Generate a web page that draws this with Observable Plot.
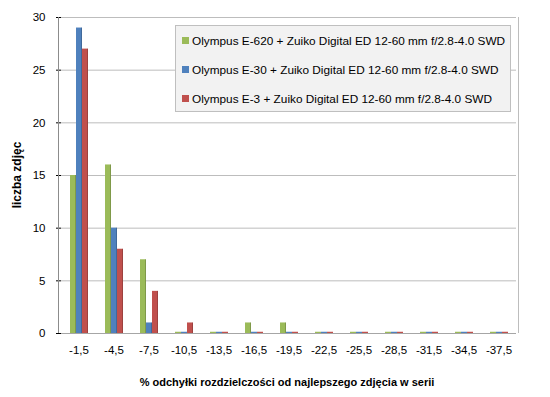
<!DOCTYPE html>
<html>
<head>
<meta charset="utf-8">
<script src="https://cdn.jsdelivr.net/npm/d3@7"></script>
<script src="https://cdn.jsdelivr.net/npm/@observablehq/plot@0.6"></script>
<style>
  html, body { margin: 0; padding: 0; background: #fff; }
  #wrap { position: relative; width: 550px; height: 397px; font-family: "Liberation Sans", Arial, sans-serif; }
  #legend { position: absolute; left: 175px; top: 25px; width: 336px; height: 87px; background: #f2f2f2; border: 1px solid #bfbfbf; box-sizing: border-box; font-size: 11.8px; color: #000; }
  #legend .item { position: absolute; left: 6px; white-space: nowrap; }
  #legend .sw { display: inline-block; width: 7px; height: 7px; margin-right: 3px; vertical-align: 1px; }
  #ylab { position: absolute; left: 17px; top: 175px; transform: translate(-50%, -50%) rotate(-90deg); font-weight: bold; font-size: 12px; white-space: nowrap; }
  #xlab { position: absolute; left: 287px; top: 382px; transform: translate(-50%, -50%); font-weight: bold; font-size: 11px; white-space: pre; }
</style>
</head>
<body>
<div id="wrap"></div>
<script>
const categories = ["-1,5","-4,5","-7,5","-10,5","-13,5","-16,5","-19,5","-22,5","-25,5","-28,5","-31,5","-34,5","-37,5"];
const seriesNames = [
  "Olympus E-620 + Zuiko Digital ED 12-60 mm f/2.8-4.0 SWD",
  "Olympus E-30 + Zuiko Digital ED 12-60 mm f/2.8-4.0 SWD",
  "Olympus E-3 + Zuiko Digital ED 12-60 mm f/2.8-4.0 SWD"
];
const seriesColors = ["#9bbb59", "#4f81bd", "#c0504d"];
const e620 = [15, 16, 7, 0, 0, 1, 1, 0, 0, 0, 0, 0, 0];
const e30  = [29, 10, 1, 0, 0, 0, 0, 0, 0, 0, 0, 0, 0];
const e3   = [27,  8, 4, 1, 0, 0, 0, 0, 0, 0, 0, 0, 0];
const yTicks = [0, 5, 10, 15, 20, 25, 30];
const yLabel = "liczba zdjęc";
const xLabel = "% odchyłki rozdzielczości od najlepszego zdjęcia w serii";

const seriesValues = [e620, e30, e3];
const data = [];
categories.forEach((c, i) => {
  seriesNames.forEach((s, j) => data.push({cat: c, series: s, value: seriesValues[j][i]}));
});

const chart = Plot.plot({
  width: 550,
  height: 397,
  marginLeft: 59,
  marginRight: 32,
  marginTop: 17,
  marginBottom: 64,
  style: {fontFamily: "Liberation Sans, Arial, sans-serif", fontSize: "11.5px", color: "#000", background: "#fff"},
  fx: {domain: categories, padding: 0, label: null, tickSize: 0, tickPadding: 12},
  x: {domain: seriesNames, paddingInner: 0, paddingOuter: 1.3, axis: null},
  y: {domain: [0, 30], ticks: yTicks, label: null, tickSize: 5, tickPadding: 11, tickFormat: d => d},
  color: {domain: seriesNames, range: seriesColors},
  marks: [
    Plot.ruleY(yTicks, {stroke: "#bdbdbd", strokeWidth: 1}),
    Plot.barY(data, {fx: "cat", x: "series", y: "value", fill: "series"}),
    Plot.barY(data, {fx: "cat", x: "series", y: "value", fill: "#000", fillOpacity: 0.18, insetLeft: 5}),
    Plot.tickY(data.filter(d => d.value === 0), {fx: "cat", x: "series", y: "value", stroke: "series", strokeWidth: 1.5, dy: -1}),
    Plot.ruleY([0], {stroke: "#a6a6a6"})
  ]
});
document.getElementById("wrap").appendChild(chart);

// left axis line and right wall border drawn from the plot's scales
const ys = chart.scale("y");
const svg = d3.select(chart);
svg.append("line").attr("x1", 58.5).attr("x2", 58.5).attr("y1", ys.apply(30)).attr("y2", ys.apply(0)).attr("stroke", "#8c8c8c");
svg.append("line").attr("x1", 518.5).attr("x2", 518.5).attr("y1", ys.apply(30)).attr("y2", ys.apply(0)).attr("stroke", "#bdbdbd");
svg.selectAll("[aria-label='y-axis tick']").attr("stroke", "#8c8c8c");

const wrap = document.getElementById("wrap");
const legend = document.createElement("div");
legend.id = "legend";
seriesNames.forEach((s, i) => {
  const it = document.createElement("div");
  it.className = "item";
  it.style.top = (8 + i * 29) + "px";
  it.innerHTML = `<span class="sw" style="background:${seriesColors[i]}"></span>`;
  it.appendChild(document.createTextNode(s));
  legend.appendChild(it);
});
wrap.appendChild(legend);
const yl = document.createElement("div"); yl.id = "ylab"; yl.textContent = yLabel; wrap.appendChild(yl);
const xl = document.createElement("div"); xl.id = "xlab"; xl.textContent = xLabel; wrap.appendChild(xl);
</script>
</body>
</html>
